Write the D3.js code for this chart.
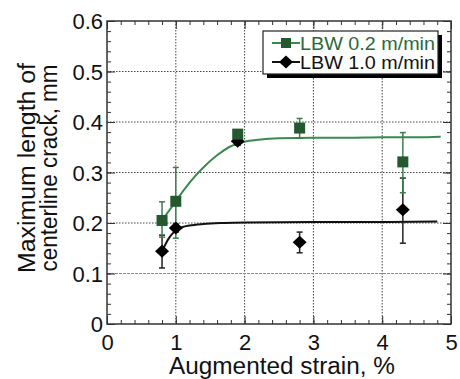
<!DOCTYPE html>
<html><head><meta charset="utf-8">
<script src="https://cdn.jsdelivr.net/npm/d3@7"></script>
<style>
html,body{margin:0;padding:0;background:#fff;}
svg{display:block;font-family:"Liberation Sans",Arial,Helvetica,sans-serif;}
</style></head>
<body>
<svg id="chart" width="460" height="379"></svg>
<script>
// ---- data ----
const strain = [0.8, 1.0, 1.9, 2.8, 4.3];
const lbw02 = [0.205, 0.243, 0.376, 0.388, 0.321];
const lbw02Hi = [0.242, 0.31, 0.384, 0.407, 0.379];
const lbw02Lo = [0.172, 0.17, 0.368, 0.368, 0.26];
const lbw10 = [0.144, 0.19, 0.362, 0.162, 0.226];
const lbw10Hi = [0.176, 0.198, 0.37, 0.182, 0.289];
const lbw10Lo = [0.111, 0.182, 0.354, 0.141, 0.16];
const fit02X = [0.8, 0.9, 1.0, 1.1, 1.2, 1.4, 1.6, 1.8, 2.0, 2.2, 2.5, 3.0, 3.5, 4.0, 4.5, 4.85];
const fit02Y = [0.205, 0.224, 0.243, 0.262, 0.28, 0.31, 0.334, 0.352, 0.361, 0.365, 0.368, 0.369, 0.369, 0.37, 0.37, 0.371];
const fit10X = [0.8, 0.85, 0.9, 1.0, 1.1, 1.2, 1.4, 1.7, 2.0, 3.0, 4.0, 4.8];
const fit10Y = [0.144, 0.158, 0.17, 0.185, 0.192, 0.195, 0.198, 0.2, 0.201, 0.202, 0.202, 0.203];
const xTicks = [0, 1, 2, 3, 4, 5];
const yTicks = [0, 0.1, 0.2, 0.3, 0.4, 0.5, 0.6];
const seriesNames = ["LBW 0.2 m/min", "LBW 1.0 m/min"];

// ---- layout ----
const L = 107, R = 451, T = 21, B = 324;
const green = "#2b6a3a", greenLine = "#3a8a50", greenMark = "#24582f";
const svg = d3.select("#chart");
const x = d3.scaleLinear().domain([0, 5]).range([L, R]);
const y = d3.scaleLinear().domain([0, 0.6]).range([B, T]);

// gridlines
const grid = svg.append("g").attr("stroke", "#444").attr("stroke-width", 1).attr("stroke-dasharray", "1.5,1.5");
xTicks.slice(1, -1).forEach(v => grid.append("line").attr("x1", x(v)).attr("x2", x(v)).attr("y1", T).attr("y2", B));
yTicks.slice(1, -1).forEach(v => grid.append("line").attr("x1", L).attr("x2", R).attr("y1", y(v)).attr("y2", y(v))
  .attr("stroke", v === 0.1 ? "#888" : "#444").attr("stroke-dasharray", v === 0.1 ? "3,1" : "1.5,1.5"));

// axes with inner ticks on all sides
const minorX = d3.range(0, 5.001, 0.2);
const minorY = d3.range(0, 0.6001, 0.02);
function addAxis(axisGen, tr) {
  const g = svg.append("g").attr("transform", tr).call(axisGen);
  g.select(".domain").remove();
  g.selectAll("line").attr("stroke", "#333").attr("stroke-width", 1);
  return g;
}
addAxis(d3.axisBottom(x).tickValues(minorX).tickSize(-4).tickFormat(""), `translate(0,${B})`);
addAxis(d3.axisTop(x).tickValues(minorX).tickSize(-4).tickFormat(""), `translate(0,${T})`);
addAxis(d3.axisLeft(y).tickValues(minorY).tickSize(-4).tickFormat(""), `translate(${L},0)`);
addAxis(d3.axisRight(y).tickValues(minorY).tickSize(-4).tickFormat(""), `translate(${R},0)`);
addAxis(d3.axisTop(x).tickValues(xTicks).tickSize(-8).tickFormat(""), `translate(0,${T})`);
addAxis(d3.axisRight(y).tickValues(yTicks).tickSize(-8).tickFormat(""), `translate(${R},0)`);
const xa = addAxis(d3.axisBottom(x).tickValues(xTicks).tickSize(-8).tickFormat(d3.format("d")), `translate(0,${B})`);
const ya = addAxis(d3.axisLeft(y).tickValues(yTicks).tickSize(-8).tickFormat(d => d === 0 ? "0" : d3.format(".1f")(d)), `translate(${L},0)`);
[xa, ya].forEach(g => g.selectAll("text").attr("font-size", 22).attr("fill", "#111").attr("font-family", "Liberation Sans, Arial, sans-serif"));
xa.selectAll("text").attr("dy", "0.71em").attr("y", 10);
ya.selectAll("text").attr("x", -4).attr("dy", "0.35em");

// frame
svg.append("rect").attr("x", L).attr("y", T).attr("width", R - L).attr("height", B - T)
  .attr("fill", "none").attr("stroke", "#333").attr("stroke-width", 1.5);

// fit curves
const line = d3.line().x(d => x(d[0])).y(d => y(d[1])).curve(d3.curveMonotoneX);
svg.append("path").attr("d", line(d3.zip(fit10X, fit10Y))).attr("fill", "none").attr("stroke", "#111").attr("stroke-width", 2);
svg.append("path").attr("d", line(d3.zip(fit02X, fit02Y))).attr("fill", "none").attr("stroke", greenLine).attr("stroke-width", 2);

// error bars
function errBars(lo, hi, color) {
  const g = svg.append("g").attr("stroke", color).attr("stroke-width", 1.5);
  strain.forEach((s, i) => {
    g.append("line").attr("x1", x(s)).attr("x2", x(s)).attr("y1", y(lo[i])).attr("y2", y(hi[i]));
    [lo[i], hi[i]].forEach(v => g.append("line").attr("x1", x(s) - 3).attr("x2", x(s) + 3).attr("y1", y(v)).attr("y2", y(v)));
  });
}
errBars(lbw10Lo, lbw10Hi, "#222");
errBars(lbw02Lo, lbw02Hi, "#3d7d4e");

// markers
const diamond = (cx, cy) => `M${cx},${cy - 6.5}L${cx + 7},${cy}L${cx},${cy + 6.5}L${cx - 7},${cy}Z`;
svg.append("g").selectAll("path").data(strain).join("path")
  .attr("d", (s, i) => diamond(x(s), y(lbw10[i]))).attr("fill", "#000");
svg.append("g").selectAll("rect").data(strain).join("rect")
  .attr("x", s => x(s) - 5.5).attr("y", (s, i) => y(lbw02[i]) - 5.5)
  .attr("width", 11).attr("height", 11).attr("fill", greenMark);

// legend
const lg = svg.append("g");
lg.append("rect").attr("x", 267).attr("y", 35).attr("width", 175).attr("height", 43).attr("fill", "#000");
lg.append("rect").attr("x", 263).attr("y", 31).attr("width", 175).attr("height", 43).attr("fill", "#fff").attr("stroke", "#222").attr("stroke-width", 1.2);
const legRows = [
  {name: seriesNames[0], color: green, lc: greenLine, mark: "sq", cy: 43},
  {name: seriesNames[1], color: "#111", lc: "#111", mark: "di", cy: 62}
];
legRows.forEach(r => {
  lg.append("line").attr("x1", 272).attr("x2", 300).attr("y1", r.cy).attr("y2", r.cy).attr("stroke", r.lc).attr("stroke-width", 2);
  if (r.mark === "sq") lg.append("rect").attr("x", 281).attr("y", r.cy - 5).attr("width", 10).attr("height", 10).attr("fill", greenMark);
  else lg.append("path").attr("d", diamond(286, r.cy)).attr("fill", "#000");
  lg.append("text").attr("x", 300).attr("y", r.cy).attr("dy", "0.36em").attr("font-size", 19)
    .attr("textLength", 135).attr("lengthAdjust", "spacingAndGlyphs").attr("fill", r.color).text(r.name);
});

// axis titles
svg.append("text").attr("x", 282).attr("y", 374).attr("text-anchor", "middle").attr("font-size", 23).attr("fill", "#111")
  .attr("textLength", 226).attr("lengthAdjust", "spacingAndGlyphs")
  .text("Augmented strain, %");
const yt = svg.append("text").attr("transform", "translate(0,168) rotate(-90)").attr("text-anchor", "middle").attr("font-size", 23).attr("fill", "#111");
yt.append("tspan").attr("x", 0).attr("y", 35).attr("textLength", 210).attr("lengthAdjust", "spacingAndGlyphs").text("Maximum length of");
yt.append("tspan").attr("x", 0).attr("y", 57).attr("textLength", 207).attr("lengthAdjust", "spacingAndGlyphs").text("centerline crack, mm");
</script>
</body></html>
